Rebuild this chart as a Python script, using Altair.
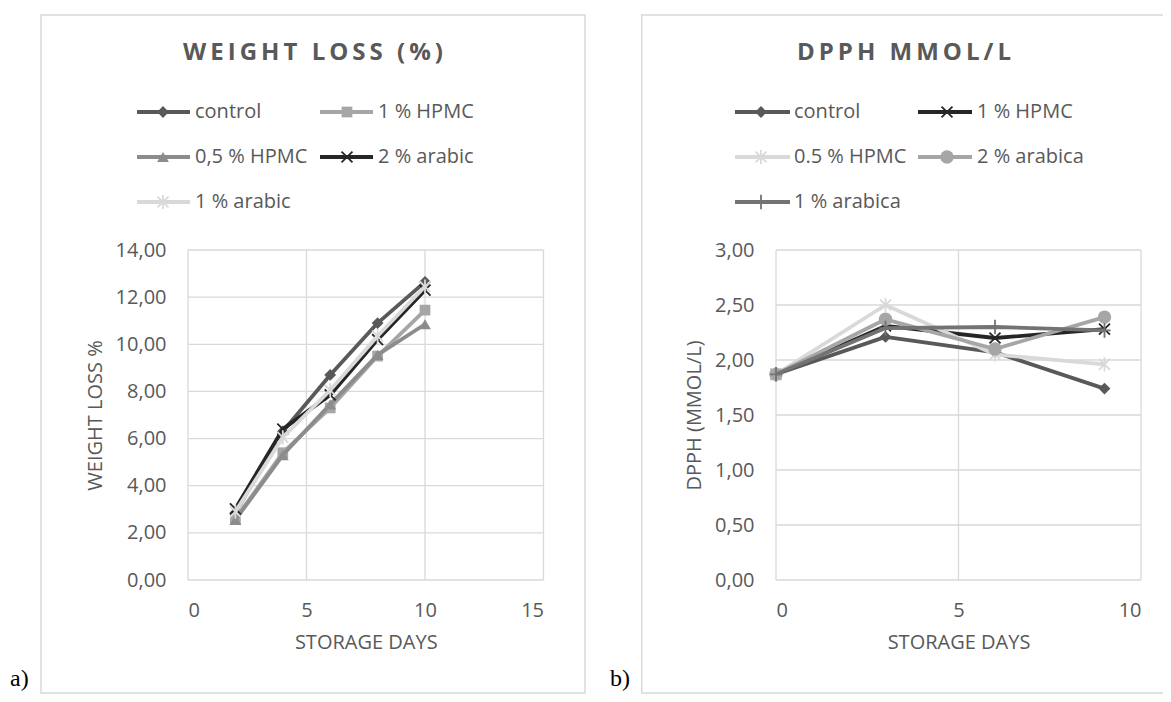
import altair as alt
import pandas as pd

# ---------------- data ----------------
# panel a) weight loss (%)
days_a = [2, 4, 6, 8, 10]
control_a = [2.85, 6.30, 8.70, 10.90, 12.65]
hpmc1_a = [2.60, 5.40, 7.30, 9.50, 11.45]
hpmc05_a = [2.55, 5.30, 7.45, 9.55, 10.85]
arabic2_a = [3.02, 6.40, 7.85, 10.20, 12.30]
arabic1_a = [2.90, 6.05, 8.05, 10.35, 12.45]
names_a = ["control", "1 % HPMC", "0,5 % HPMC", "2 % arabic", "1 % arabic"]

# panel b) DPPH mmol/L
days_b = [0, 3, 6, 9]
control_b = [1.87, 2.21, 2.07, 1.74]
hpmc1_b = [1.87, 2.31, 2.20, 2.28]
hpmc05_b = [1.87, 2.50, 2.05, 1.96]
arabica2_b = [1.87, 2.37, 2.10, 2.39]
arabica1_b = [1.87, 2.29, 2.30, 2.27]
names_b = ["control", "1 % HPMC", "0.5 % HPMC", "2 % arabica", "1 % arabica"]

xticks_a = [0, 5, 10, 15]
yticks_a = [0, 2, 4, 6, 8, 10, 12, 14]
xticks_b = [0, 5, 10]
yticks_b = [0, 0.5, 1.0, 1.5, 2.0, 2.5, 3.0]

# ---------------- styles ----------------
TXT = "#595959"
GRID = "#d9d9d9"
FONT = "Open Sans"
XPATH = "M-1,-1L1,1M-1,1L1,-1"
STAR = "M-1,-1L1,1M-1,1L1,-1M0,-1.3L0,1.3"
PLUS = "M-1,0L1,0M0,-1.2L0,1.2"

# (color, shape, filled, size)
sty_a = [
    ("#595959", "diamond", True, 140),
    ("#a6a6a6", "square", True, 115),
    ("#8c8c8c", "triangle-up", True, 140),
    ("#262626", XPATH, False, 120),
    ("#d9d9d9", STAR, False, 120),
]
sty_b = [
    ("#595959", "diamond", True, 140),
    ("#262626", XPATH, False, 120),
    ("#d9d9d9", STAR, False, 120),
    ("#a6a6a6", "circle", True, 180),
    ("#737373", PLUS, False, 150),
]

one = pd.DataFrame({"k": [0]})
ylab = "replace(format(datum.value, '.2f'), '.', ',')"


def spaced(s):
    sp = "\u2006"
    return (sp + " " + sp).join(sp.join(w) for w in s.split(" "))


def panel(days, values, names, styles, xdom, ydom, xticks, yticks, xrange,
          ytitle, yoffset, leg, title, title_x, box, tag, tag_x):
    X = alt.X("day:Q", scale=alt.Scale(domain=xdom, range=xrange, nice=False, zero=False),
              axis=alt.Axis(values=xticks, orient="bottom", title="STORAGE DAYS", format="d"))
    Y = alt.Y("val:Q", scale=alt.Scale(domain=ydom, nice=False, zero=False),
              axis=alt.Axis(values=yticks, orient="left", title=ytitle, labelExpr=ylab,
                            offset=yoffset))
    layers = []
    # border box
    layers.append(alt.Chart(one).mark_rect(fillOpacity=0, stroke=GRID, strokeWidth=1.5).encode(
        x=alt.value(box[0]), x2=alt.value(box[1]), y=alt.value(box[2]), y2=alt.value(box[3])))
    # gridlines
    layers.append(alt.Chart(pd.DataFrame({"val": yticks})).mark_rule(color=GRID, strokeWidth=1.3).encode(
        y=Y, x=alt.X(datum=xdom[0]), x2=alt.X2(datum=xdom[1])))
    layers.append(alt.Chart(pd.DataFrame({"day": xticks})).mark_rule(color=GRID, strokeWidth=1.3).encode(
        x=X, y=alt.Y(datum=ydom[0]), y2=alt.Y2(datum=ydom[1])))
    # series
    for vals, (col, shp, fil, sz) in zip(values, styles):
        df = pd.DataFrame({"day": days, "val": vals})
        base = alt.Chart(df).encode(x=X, y=Y)
        layers.append(base.mark_line(color=col, strokeWidth=3.8, strokeJoin="round"))
        layers.append(base.mark_point(shape=shp, filled=fil, color=col, size=sz, opacity=1,
                                      strokeWidth=1.8))
    # title
    layers.append(alt.Chart(one).mark_text(text=spaced(title), font=FONT, fontSize=24,
                                           fontWeight="bold", color=TXT, align="center",
                                           baseline="middle").encode(
        x=alt.value(title_x), y=alt.value(-197)))
    # legend
    for i, (nm, (col, shp, fil, sz)) in enumerate(zip(names, styles)):
        c, r = i % 2, i // 2
        lx0, lx1, mx, tx = leg[c]
        ly = -138 + 45 * r
        layers.append(alt.Chart(one).mark_rule(color=col, strokeWidth=3.8).encode(
            x=alt.value(lx0), x2=alt.value(lx1), y=alt.value(ly)))
        layers.append(alt.Chart(one).mark_point(shape=shp, filled=fil, color=col, size=sz, opacity=1,
                                                strokeWidth=1.8).encode(
            x=alt.value(mx), y=alt.value(ly)))
        layers.append(alt.Chart(one).mark_text(text=nm, font=FONT, fontSize=20, color=TXT,
                                               align="left", baseline="middle").encode(
            x=alt.value(tx), y=alt.value(ly)))
    # panel tag
    layers.append(alt.Chart(one).mark_text(text=tag, font="Liberation Serif", fontSize=24,
                                           color="black", align="left", baseline="alphabetic").encode(
        x=alt.value(tag_x), y=alt.value(436)))
    return alt.layer(*layers)


left = panel(days_a, [control_a, hpmc1_a, hpmc05_a, arabic2_a, arabic1_a], names_a, sty_a,
             [0, 15], [0, 14], xticks_a, yticks_a, [0, 355.5], "WEIGHT LOSS %", 0,
             [(-51, 2, -25, 7), (132, 185, 159, 190)], "WEIGHT LOSS (%)", 125,
             (-147, 397, -235, 443), "a)", -178)
right = panel(days_b, [control_b, hpmc1_b, hpmc05_b, arabica2_b, arabica1_b], names_b, sty_b,
              [0, 10], [0, 3], xticks_b, yticks_b, [588, 953], "DPPH (MMOL/L)", -588,
              [(547, 602, 573, 606), (730, 784, 759, 789)], "DPPH MMOL/L", 716,
              (453.7, 990, -235, 443), "b)", 422)

chart = alt.layer(left, right).resolve_scale(
    x="independent", y="independent"
).resolve_axis(
    x="independent", y="independent"
).properties(
    width=953, height=330,
    padding={"left": 180, "top": 242, "right": 22, "bottom": 114},
    autosize=alt.AutoSizeParams(type="none"),
).configure_view(stroke=None).configure_axis(
    labelFont=FONT, labelFontSize=20, labelColor=TXT,
    titleFont=FONT, titleFontSize=20, titleFontWeight="normal", titleColor=TXT,
    domain=False, ticks=False, grid=False,
).configure_axisX(labelPadding=20, titlePadding=12).configure_axisY(labelPadding=22, titlePadding=10)

chart.save("out.html", embed_options={"renderer": "svg", "actions": False})
